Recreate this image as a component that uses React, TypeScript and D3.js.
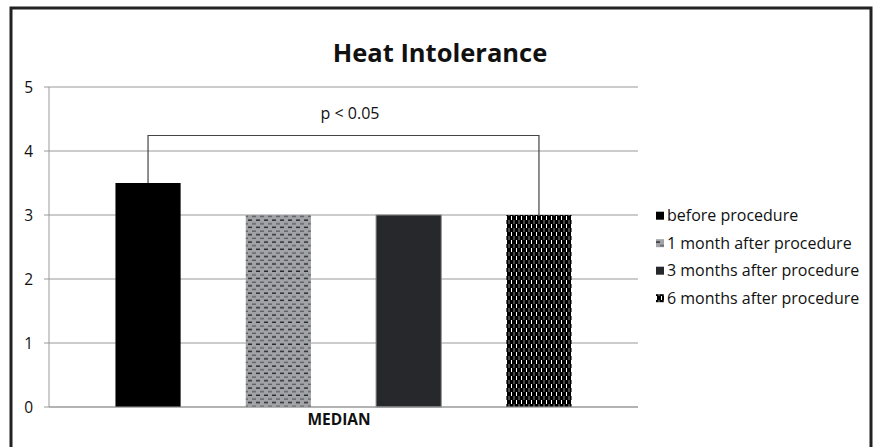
import React from "react";
import * as d3 from "d3";

const categories = ["MEDIAN"];
const seriesNames = ["before procedure", "1 month after procedure", "3 months after procedure", "6 months after procedure"];
const seriesValues = [3.5, 3, 3, 3];
const yTicks = [0, 1, 2, 3, 4, 5];
const title = "Heat Intolerance";
const annotation = "p < 0.05";

const W = 878, H = 447;

export default function App() {
  const x0 = 49, x1 = 638, yTop = 87, yBot = 407;
  const y = d3.scaleLinear().domain([0, 5]).range([yBot, yTop]);
  const xc = d3.scaleBand().domain(categories).range([x0, x1]);
  const xs = d3.scaleBand().domain(seriesNames).range([0, xc.bandwidth()]).paddingInner(0.5).paddingOuter(0.51);
  const fills = ["#000", "url(#pat1)", "#27282c", "url(#pat3)"];
  const font = "'Open Sans', 'Liberation Sans', sans-serif";
  const bx = (i: number) => (xc(categories[0]) as number) + (xs(seriesNames[i]) as number);
  const bw = xs.bandwidth();
  const c0 = bx(0) + bw / 2, c3 = bx(3) + bw / 2;
  const bracketY = 135.5;
  return (
    <svg width={W} height={H} style={{ position: "absolute", left: 0, top: 0, background: "#fff" }}>
      <defs>
        <pattern id="pat1" width="8" height="7.3" patternUnits="userSpaceOnUse">
          <rect width="8" height="7.3" fill="#a2a3a8" />
          <rect x="0" y="0.5" width="4" height="1.2" fill="#111" />
          <rect x="4" y="4.2" width="4" height="1.2" fill="#555" />
        </pattern>
        <pattern id="pat3" width="5" height="8" patternUnits="userSpaceOnUse">
          <rect width="5" height="8" fill="#000" />
          <rect x="1" y="0" width="1" height="4" fill="#fff" />
          <rect x="3.5" y="4" width="1" height="4" fill="#888" />
        </pattern>
      </defs>
      <rect x={11} y={8} width={860} height={445} fill="none" stroke="#222" strokeWidth={3} />
      <text x={440} y={62} textAnchor="middle" fontFamily={font} fontWeight="bold" fontSize={25.5} fill="#111">{title}</text>
      {yTicks.map((t) => (
        <g key={t}>
          <line x1={x0 - 5} x2={x1} y1={y(t)} y2={y(t)} stroke="#9a9a9a" strokeWidth={1.2} />
          <text x={33} y={y(t) + 6} textAnchor="end" fontFamily={font} fontSize={15.5} fill="#111">{t}</text>
        </g>
      ))}
      <line x1={x0} x2={x0} y1={yTop} y2={yBot} stroke="#9a9a9a" strokeWidth={1} />
      {seriesNames.map((s, i) => (
        <rect key={s} x={bx(i)} y={y(seriesValues[i])} width={bw} height={yBot - y(seriesValues[i])} fill={fills[i]} stroke={i === 2 ? "#888" : "none"} strokeWidth={1} />
      ))}
      <line x1={x0} x2={x1} y1={yBot} y2={yBot} stroke="#9a9a9a" strokeWidth={1.2} />
      <path d={`M${c0},${y(seriesValues[0])}V${bracketY}H${c3}V${y(seriesValues[3])}`} fill="none" stroke="#444" strokeWidth={1.2} />
      <text x={350} y={119} textAnchor="middle" fontFamily={font} fontSize={16} fill="#111">{annotation}</text>
      <text x={339} y={425} textAnchor="middle" fontFamily={font} fontWeight="bold" fontSize={15.5} fill="#111">{categories[0]}</text>
      {seriesNames.map((s, i) => {
        const ly = 215.7 + i * 27.5;
        return (
          <g key={s}>
            <rect x={656} y={ly - 4} width={8} height={8} fill={fills[i]} />
            <text x={667} y={ly + 5.5} fontFamily={font} fontSize={16} fill="#111">{s}</text>
          </g>
        );
      })}
    </svg>
  );
}
